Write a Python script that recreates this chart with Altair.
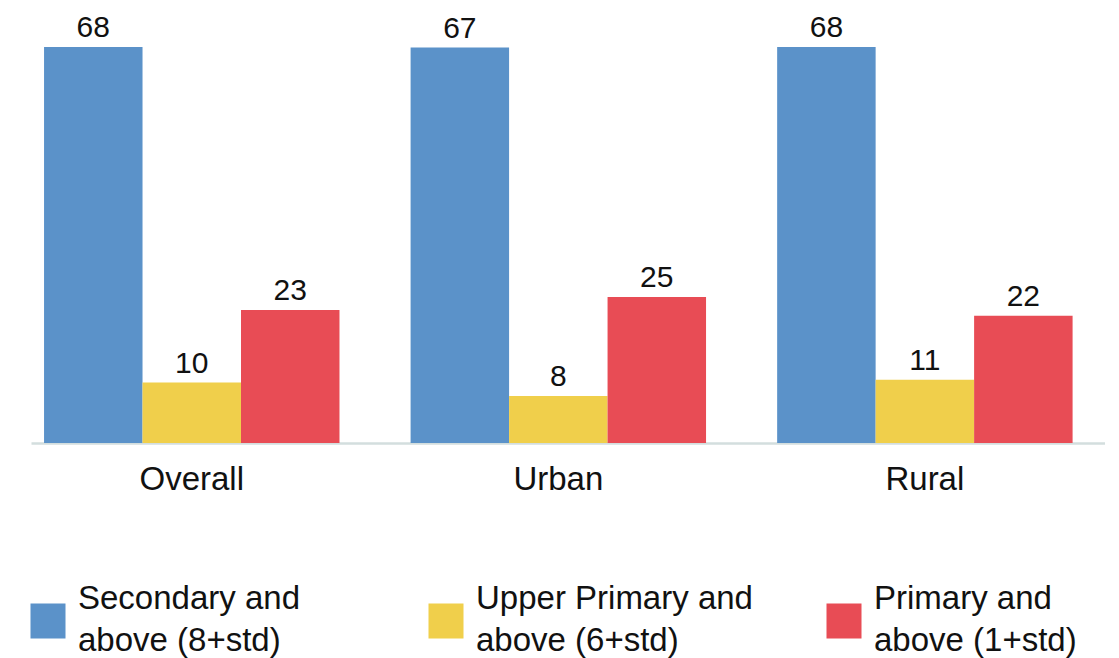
import altair as alt
import pandas as pd

categories = ["Overall", "Urban", "Rural"]
series = [
    "Secondary and above (8+std)",
    "Upper Primary and above (6+std)",
    "Primary and above (1+std)",
]
legend_text = [
    "Secondary and\nabove (8+std)",
    "Upper Primary and\nabove (6+std)",
    "Primary and\nabove (1+std)",
]
secondary = [67.55, 67.45, 67.55]
upper_primary = [10.3, 8.0, 10.8]
primary = [22.7, 24.9, 21.7]
colors = ["#5B92C9", "#F0CF4B", "#E84C55"]

rows = []
for i, c in enumerate(categories):
    for s, vals in zip(series, [secondary, upper_primary, primary]):
        rows.append({"category": c, "series": s, "value": vals[i]})
df = pd.DataFrame(rows)

FONT = "Liberation Sans"

x_enc = alt.X(
    "category:N",
    sort=categories,
    scale=alt.Scale(paddingInner=0.194, paddingOuter=0.062, align=0.287),
    axis=alt.Axis(
        title=None,
        labelAngle=0,
        ticks=False,
        grid=False,
        labelFontSize=33,
        labelFont=FONT,
        labelColor="#111111",
        labelPadding=20,
        domainColor="#D3DEDE",
        domainWidth=2.5,
    ),
)
xo_enc = alt.XOffset("series:N", sort=series, scale=alt.Scale(paddingInner=0, paddingOuter=0))
y_enc = alt.Y("value:Q", scale=alt.Scale(domain=[0, 74.7], nice=False), axis=None)
color_enc = alt.Color("series:N", sort=series, scale=alt.Scale(domain=series, range=colors), legend=None)

bars = alt.Chart(df).mark_bar().encode(x=x_enc, xOffset=xo_enc, y=y_enc, color=color_enc)
labels = alt.Chart(df).mark_text(
    baseline="alphabetic", dy=-10, fontSize=30, font=FONT, color="#111111"
).encode(x=x_enc, xOffset=xo_enc, y=y_enc, text=alt.Text("value:Q", format=".0f"))

top = (bars + labels).properties(width=1074, height=438)

leg_df = pd.DataFrame({"series": series, "text": legend_text})
leg_x = alt.X("series:N", sort=series, scale=alt.Scale(type="point", padding=0), axis=None)
squares = alt.Chart(leg_df).mark_square(size=1225, xOffset=17, opacity=1).encode(
    x=leg_x, color=color_enc
)
texts = alt.Chart(leg_df).mark_text(
    align="left", dx=47, dy=-22, lineBreak="\n", fontSize=33, lineHeight=42,
    baseline="middle", font=FONT, color="#111111"
).encode(x=leg_x, text="text:N")
legend_chart = (squares + texts).properties(width=796, height=80)

chart = alt.vconcat(top, legend_chart, spacing=85).properties(
    padding={"left": 30, "top": 5, "right": 0, "bottom": 0}
).configure_view(stroke=None)

chart.save("out.html", embed_options={"renderer": "svg", "actions": False})
